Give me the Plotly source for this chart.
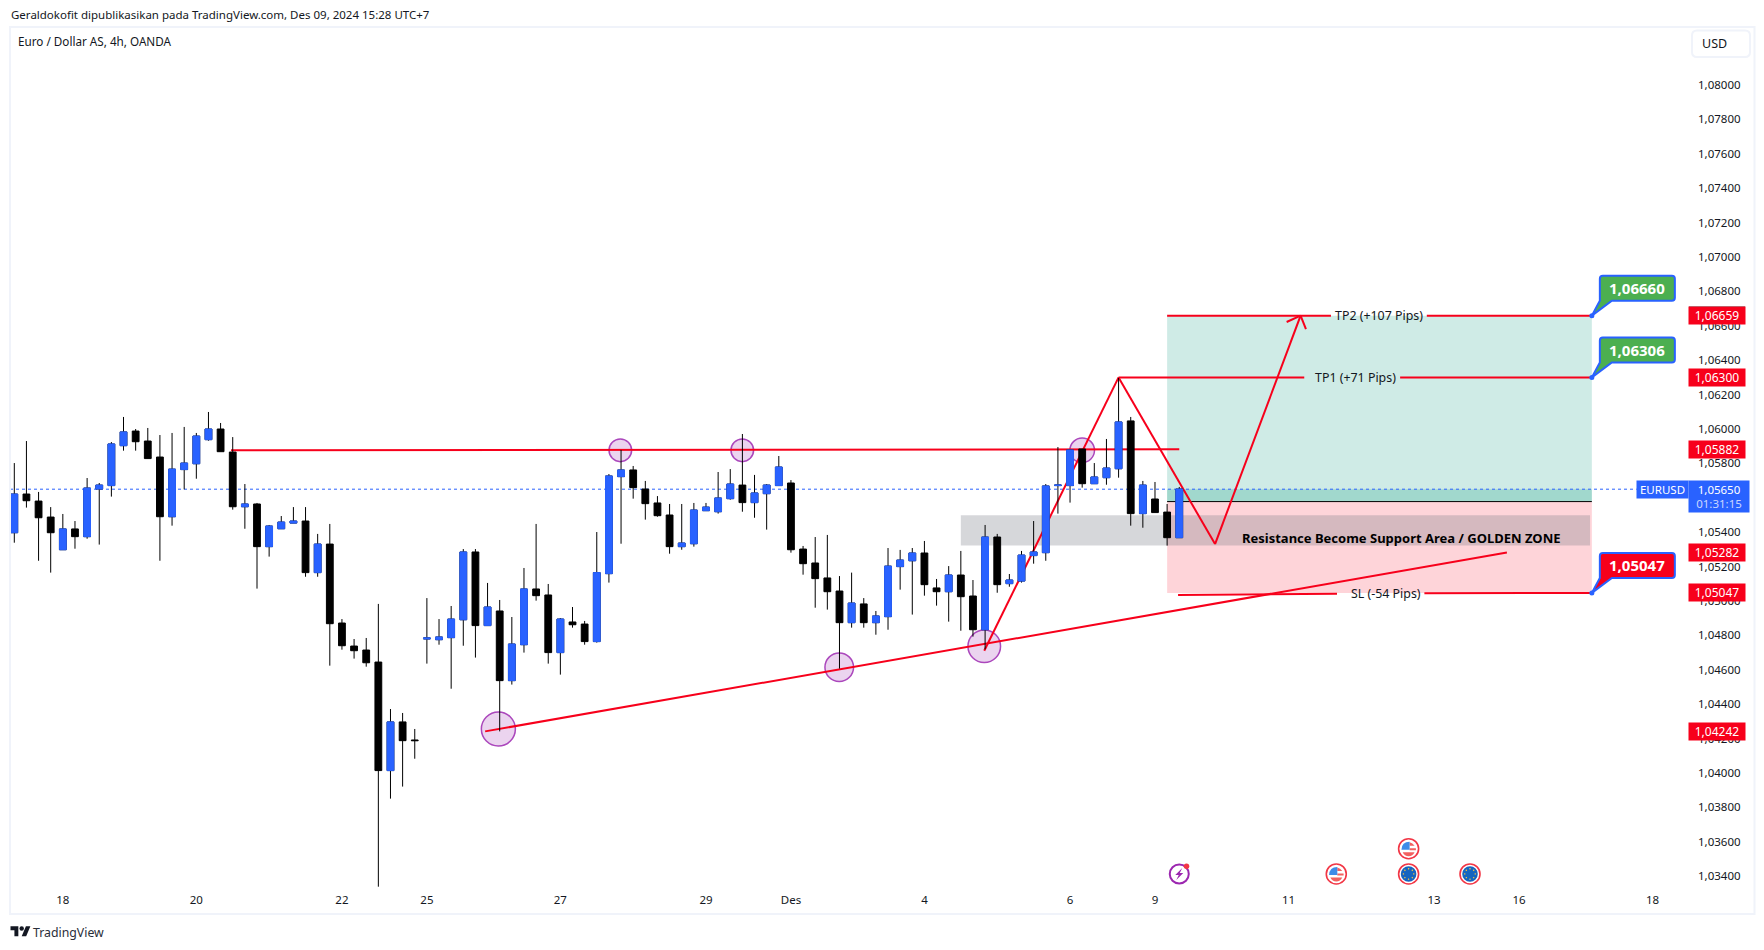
import math
import plotly.graph_objects as go

opens = [1.05397,1.05622,1.05581,1.05488,1.05298,1.05419,1.05374,1.05651,1.05671,1.05903,
1.05988,1.05930,1.05837,1.05490,1.05764,1.05798,1.05938,1.06000,1.05866,1.05548,
1.05564,1.05316,1.05420,1.05453,1.05465,1.05165,1.05331,1.04872,1.04738,1.04715,
1.04645,1.04014,1.04297,1.04192,1.04779,1.04775,1.04787,1.04891,1.05285,1.04857,
1.04942,1.04537,1.04746,1.05070,1.05035,1.04700,1.04878,1.04866,1.04764,1.05159,
1.05723,1.05762,1.05651,1.05570,1.05500,1.05316,1.05333,1.05525,1.05519,1.05595,
1.05674,1.05572,1.05624,1.05671,1.05686,1.05302,1.05221,1.05134,1.05058,1.04874,
1.04983,1.04874,1.04909,1.05200,1.05234,1.05279,1.05076,1.05054,1.05151,1.05029,
1.04833,1.05372,1.05101,1.05116,1.05264,1.05281,1.05671,1.05671,1.05884,1.05682,
1.05717,1.05769,1.06047,1.05508,1.05593,1.05517,1.05368]
closes = [1.05622,1.05583,1.05484,1.05397,1.05419,1.05374,1.05657,1.05674,1.05913,1.05983,
1.05926,1.05828,1.05490,1.05767,1.05802,1.05959,1.06000,1.05868,1.05548,1.05564,
1.05316,1.05436,1.05459,1.05465,1.05165,1.05331,1.04868,1.04740,1.04711,1.04641,
1.04014,1.04297,1.04188,1.04188,1.04785,1.04791,1.04895,1.05285,1.04857,1.04965,
1.04537,1.04750,1.05070,1.05031,1.04700,1.04895,1.04862,1.04764,1.05165,1.05727,
1.05762,1.05659,1.05566,1.05496,1.05316,1.05337,1.05529,1.05546,1.05599,1.05680,
1.05572,1.05628,1.05674,1.05779,1.05298,1.05217,1.05130,1.05054,1.04874,1.04988,
1.04874,1.04913,1.05203,1.05238,1.05279,1.05095,1.05054,1.05151,1.05025,1.04833,
1.05372,1.05095,1.05122,1.05267,1.05285,1.05669,1.05674,1.05878,1.05682,1.05721,
1.05773,1.06041,1.05508,1.05674,1.05514,1.05368,1.05651]
highs = [1.05802,1.05930,1.05634,1.05546,1.05506,1.05465,1.05715,1.05686,1.05924,1.06070,
1.06000,1.06006,1.05965,1.05977,1.06012,1.05977,1.06099,1.06035,1.05953,1.05680,
1.05570,1.05442,1.05494,1.05546,1.05546,1.05390,1.05448,1.04895,1.04779,1.04785,
1.04983,1.04372,1.04349,1.04256,1.05017,1.04895,1.04971,1.05302,1.05302,1.05105,
1.05006,1.04907,1.05192,1.05448,1.05099,1.04901,1.04965,1.04884,1.05401,1.05738,
1.05878,1.05785,1.05698,1.05610,1.05564,1.05564,1.05570,1.05570,1.05750,1.05767,
1.05971,1.05733,1.05680,1.05843,1.05703,1.05320,1.05372,1.05384,1.05145,1.05165,
1.05017,1.04942,1.05308,1.05297,1.05308,1.05349,1.05128,1.05203,1.05291,1.05122,
1.05442,1.05390,1.05157,1.05291,1.05465,1.05680,1.05895,1.05878,1.05884,1.05802,
1.05942,1.06297,1.06070,1.05698,1.05692,1.05564,1.05663]
lows = [1.05339,1.05543,1.05234,1.05165,1.05298,1.05304,1.05362,1.05328,1.05607,1.05874,
1.05874,1.05828,1.05234,1.05438,1.05649,1.05711,1.05932,1.05868,1.05531,1.05420,
1.05072,1.05258,1.05420,1.05453,1.05141,1.05141,1.04624,1.04717,1.04665,1.04618,
1.03339,1.03851,1.03921,1.04083,1.04636,1.04746,1.04490,1.04740,1.04671,1.04857,
1.04242,1.04514,1.04700,1.05002,1.04636,1.04572,1.04845,1.04746,1.04758,1.05107,
1.05333,1.05595,1.05473,1.05490,1.05275,1.05298,1.05316,1.05525,1.05508,1.05589,
1.05519,1.05484,1.05415,1.05671,1.05281,1.05153,1.04961,1.04950,1.04607,1.04845,
1.04845,1.04804,1.04833,1.05066,1.04921,1.05031,1.04973,1.04880,1.04827,1.04793,
1.04719,1.05048,1.05083,1.05107,1.05217,1.05234,1.05508,1.05572,1.05659,1.05682,
1.05676,1.05717,1.05438,1.05426,1.05514,1.05322,1.05368]
bars = list(range(len(opens)))

price_ticks = [1.034 + 0.002 * k for k in range(24)]
time_tick_bars = [4, 15, 27, 34, 45, 57, 64, 75, 87, 94, 105, 117, 124, 135]
time_tick_text = ["18", "20", "22", "25", "27", "29", "Des", "4", "6", "9", "11", "13", "16", "18"]

last_price = 1.0565
entry_price = 1.05578
tp1_price, tp2_price, sl_price = 1.06300, 1.06659, 1.05047
zone_top, zone_bottom = 1.05498, 1.05322
box_start, box_end = 95.0, 130.0
zone_start, zone_end = 78.0, 129.85

trend_x, trend_y = [38.8, 123.0], [1.04242, 1.05282]
resist_x, resist_y = [17.86, 96.0], [1.05876, 1.05882]
zigzag_x = [79.93, 91.0, 98.95, 106.0]
zigzag_y = [1.04711, 1.06300, 1.05331, 1.06659]
barb_x, barb_y = [104.85, 106.44], [1.06622, 1.06581]
circle_x = [39.89, 49.94, 59.99, 67.98, 79.93, 88.0]
circle_y = [1.04256, 1.05876, 1.05876, 1.04615, 1.04737, 1.05876]
circle_r = [17, 11.3, 11.3, 14.3, 16.3, 12.3]

axis_tags = ["1,06659", "1,06300", "1,05882", "1,05282", "1,05047", "1,04242"]
axis_tag_y = [1.06659, 1.06300, 1.05878, 1.05282, 1.05047, 1.04242]
callout_text = ["1,06660", "1,06306", "1,05047"]
callout_y = [1.06659, 1.06300, 1.05047]
callout_fill = ["#4CAF50", "#4CAF50", "#F7001B"]

BLUE, RED, INK = "#2962FF", "#F7001B", "#131722"
FONT = "Noto Sans"
L, R, T, B = 10, 1689, 27, 887
XMIN, XMAX = (L - 14.3) / 12.135, (R - 14.3) / 12.135
YMAX, YMIN = 1.06 + (429 - T) / 17200, 1.06 + (429 - B) / 17200


def px(x):
    return (x - L) / (R - L)


def py(y):
    return (B - y) / (B - T)


shapes = []
annos = []


def rect(x0, x1, y0, y1, fill):
    shapes.append(dict(type="rect", xref="x", yref="y", x0=x0, x1=x1, y0=y0, y1=y1,
                       fillcolor=fill, line=dict(width=0), layer="below"))


def seg(xs, ys, color=RED, width=2, dash="solid"):
    shapes.append(dict(type="line", xref="x", yref="y", x0=xs[0], x1=xs[1], y0=ys[0], y1=ys[1],
                       line=dict(color=color, width=width, dash=dash), layer="below"))


def pix_circle(x, y, r, fill, line=None, lw=0, layer="below", xref="x", yref="y"):
    shapes.append(dict(type="circle", xref=xref, yref=yref, xsizemode="pixel", ysizemode="pixel",
                       xanchor=x, yanchor=y, x0=-r, x1=r, y0=-r, y1=r, fillcolor=fill,
                       line=dict(color=line or fill, width=lw), layer=layer))


def pix_path(x, y, path, fill, line=None, lw=0, layer="above", xref="x", yref="y"):
    shapes.append(dict(type="path", xref=xref, yref=yref, xsizemode="pixel", ysizemode="pixel",
                       xanchor=x, yanchor=y, path=path, fillcolor=fill,
                       line=dict(color=line or fill, width=lw), layer=layer))


def text(x, y, s, size, color=INK, xanchor="left", xref="paper", yref="paper", **kw):
    annos.append(dict(x=x, y=y, xref=xref, yref=yref, text=s, showarrow=False, xanchor=xanchor,
                      yanchor="middle", font=dict(family=FONT, size=size, color=color), **kw))


# position tool and zone
rect(box_start, box_end, entry_price, tp2_price, "rgba(0,150,120,0.19)")
rect(box_start, box_end, last_price, entry_price, "rgba(0,150,120,0.22)")
rect(box_start, box_end, sl_price, entry_price, "rgba(247,0,27,0.17)")
rect(zone_start, zone_end, zone_bottom, zone_top, "rgba(120,123,134,0.30)")
seg([box_start, box_end], [entry_price, entry_price], "#000000", 1)
seg([XMIN, 133.7], [last_price, last_price], BLUE, 1, "dot")

# circles under the lines
for cx, cy, cr in zip(circle_x, circle_y, circle_r):
    pix_circle(cx, cy, cr, "rgba(156,39,176,0.2)", "#AB47BC", 1.5)

# drawn lines
seg(trend_x, trend_y)
seg(resist_x, resist_y)
for k in range(3):
    seg(zigzag_x[k:k + 2], zigzag_y[k:k + 2])
seg([barb_x[0], zigzag_x[3]], [barb_y[0], zigzag_y[3]])
seg([barb_x[1], zigzag_x[3]], [barb_y[1], zigzag_y[3]])
seg([91.0, 106.3], [tp1_price, tp1_price])
seg([114.2, 130], [tp1_price, tp1_price])
seg([95, 108.5], [tp2_price, tp2_price])
seg([116.4, 130], [tp2_price, tp2_price])
seg([95.9, 109.0], [1.05035, 1.05042])
seg([116.2, 130], [1.05045, sl_price])

text(112.5, tp2_price, "TP2 (+107 Pips)", 12.4, xanchor="center", xref="x", yref="y")
text(110.5, tp1_price, "TP1 (+71 Pips)", 12.4, xanchor="center", xref="x", yref="y")
text(113.0, 1.05044, "SL (-54 Pips)", 12.4, xanchor="center", xref="x", yref="y")
text(114.3, 1.05366, "<b>Resistance Become Support Area / GOLDEN ZONE</b>", 13, "#000000",
     xanchor="center", xref="x", yref="y")

# callouts
for s, cy, fill in zip(callout_text, callout_y, callout_fill):
    pix_path(box_end, cy,
             "M 0 0 L 20 15 L 80 15 Q 83 15 83 18 L 83 37 Q 83 40 80 40 L 11 40 Q 8 40 8 37 L 8 15 Z",
             fill, BLUE, 2)
    pix_circle(box_end, cy, 2.5, BLUE, layer="above")
    annos.append(dict(x=box_end, y=cy, xref="x", yref="y", xshift=45.5, yshift=27.5, text="<b>" + s + "</b>",
                      showarrow=False, font=dict(family=FONT, size=15, color="#FFFFFF")))

# axis tags
tag_x = px(1717)
shapes.append(dict(type="rect", xref="paper", yref="paper", x0=px(1689), x1=px(1745), y0=py(308), y1=py(306.5),
                   fillcolor="#1B7F6E", line=dict(width=0), layer="above"))
for s, ty in zip(axis_tags, axis_tag_y):
    annos.append(dict(x=tag_x, y=ty, xref="paper", yref="y", text=s, showarrow=False, width=56, height=17,
                      xanchor="center", yanchor="middle", bgcolor=RED, borderpad=0,
                      font=dict(family=FONT, size=12, color="#FFFFFF")))
annos.append(dict(x=px(1662.5), y=py(489.5), xref="paper", yref="paper", text="EURUSD", showarrow=False,
                  width=51, height=17, xanchor="center", yanchor="middle", bgcolor=BLUE, borderpad=0,
                  font=dict(family=FONT, size=11.5, color="#FFFFFF")))
annos.append(dict(x=px(1719), y=py(496.3), xref="paper", yref="paper",
                  text="1,05650<br><span style='color:#C9D6FF'>01:31:15</span>", showarrow=False,
                  width=60, height=31, xanchor="center", yanchor="middle", bgcolor=BLUE, borderpad=0,
                  font=dict(family=FONT, size=11.5, color="#FFFFFF")))

# events
EV_Y_LOW, EV_Y_HIGH = 1.03413, 1.0356
for ex in [96]:
    pix_circle(ex, EV_Y_LOW, 9.5, "#FFFFFF", "#9C27B0", 2, layer="above")
    pix_path(ex, EV_Y_LOW, "M 3 6 L -4 -1 L -0.5 -1 L -3 -6 L 4 1 L 0.5 1 Z", "#9C27B0")
    shapes.append(dict(type="circle", xref="x", yref="y", xsizemode="pixel", ysizemode="pixel", xanchor=ex,
                       yanchor=EV_Y_LOW, x0=4.5, x1=10, y0=5, y1=10.5, fillcolor="#F23645",
                       line=dict(width=0), layer="above"))
for ex, ey in [(108.94, EV_Y_LOW), (114.9, EV_Y_HIGH)]:
    pix_circle(ex, ey, 10, "#FFFFFF", "#F23645", 1.6, layer="above")
    pix_path(ex, ey, "M -6 -3.5 L 6 -3.5 Q 4 -7.5 0 -7.5 Q -4 -7.5 -6 -3.5 Z", "#F2605F")
    pix_path(ex, ey, "M 1 6.5 Q 4 6 6 3 L 1 3 Z M 1 0.5 L 7.3 0.5 L 7.3 -1.5 L 1 -1.5 Z", "#F2605F")
    pix_path(ex, ey, "M -7.2 -1 L 1 -1 L 1 7 Q -3 7 -5 5 Q -7 3 -7.2 -1 Z", "#3D8BE8")
for ex, ey in [(114.9, EV_Y_LOW), (119.96, EV_Y_LOW)]:
    pix_circle(ex, ey, 10, "#FFFFFF", "#F23645", 1.6, layer="above")
    pix_circle(ex, ey, 7.8, "#1565C0", layer="above")
    stars = []
    for k in range(8):
        a = k * math.pi / 4
        sx, sy = 5.2 * math.cos(a), 5.2 * math.sin(a)
        stars.append(f"M {sx-0.9:.1f} {sy:.1f} L {sx:.1f} {sy+0.9:.1f} L {sx+0.9:.1f} {sy:.1f} L {sx:.1f} {sy-0.9:.1f} Z")
    pix_path(ex, ey, " ".join(stars), "#F9C440")

# page chrome
shapes.append(dict(type="rect", xref="paper", yref="paper", x0=px(10), x1=px(1754.5), y0=py(914), y1=py(27),
                   line=dict(color="#F0F3FA", width=2), layer="above"))
pix_path(px(1692), py(57), "M 5 0 L 53 0 Q 58 0 58 5 L 58 21.5 Q 58 26.5 53 26.5 L 5 26.5 Q 0 26.5 0 21.5 L 0 5 Q 0 0 5 0 Z",
         "#FFFFFF", "#F0F3FA", 2, xref="paper", yref="paper")
text(px(1700), py(44), "USD", 12.5)
text(px(8.5), py(14), "Geraldokofit dipublikasikan pada TradingView.com, Des 09, 2024 15:28 UTC+7", 11.5)
text(px(16), py(41.5), "Euro / Dollar AS, 4h, OANDA", 11.7)
text(px(31), py(932), "TradingView", 12.3, color="#2A2E39")
LOGO_S = 0.56
logo1 = [(14, 22), (7, 22), (7, 11), (0, 11), (0, 4), (14, 4)]
logo2 = [(28, 22), (20, 22), (27.5, 4), (35.5, 4)]
logo_path = ""
for poly in (logo1, logo2):
    logo_path += "M " + " L ".join(f"{a*LOGO_S:.2f} {(22-b)*LOGO_S:.2f}" for a, b in poly) + " Z "
pix_path(px(10.5), py(936.3), logo_path, "#131722", xref="paper", yref="paper")
shapes.append(dict(type="circle", xref="paper", yref="paper", xsizemode="pixel", ysizemode="pixel",
                   xanchor=px(10.5), yanchor=py(936.3), x0=16*LOGO_S, x1=24*LOGO_S, y0=10*LOGO_S, y1=18*LOGO_S,
                   fillcolor="#131722", line=dict(width=0), layer="above"))

fig = go.Figure()
# every candle: real OHLC, black wick and outline
fig.add_trace(go.Candlestick(
    x=bars, open=opens, high=highs, low=lows, close=closes, whiskerwidth=0,
    increasing=dict(line=dict(color="#000000", width=1), fillcolor=BLUE),
    decreasing=dict(line=dict(color="#000000", width=1), fillcolor="#000000"),
    showlegend=False, name="EURUSD"))
# up candle bodies repainted blue, so that only their wicks stay black
up = [i for i in bars if closes[i] >= opens[i]]
fig.add_trace(go.Candlestick(
    x=up, open=[opens[i] for i in up], close=[closes[i] for i in up],
    high=[closes[i] for i in up], low=[opens[i] for i in up], whiskerwidth=0,
    increasing=dict(line=dict(color=BLUE, width=1), fillcolor=BLUE),
    decreasing=dict(line=dict(color=BLUE, width=1), fillcolor=BLUE),
    showlegend=False, hoverinfo="skip"))

fig.update_layout(
    width=1764, height=950, paper_bgcolor="#FFFFFF", plot_bgcolor="#FFFFFF",
    margin=dict(l=L, r=1764 - R, t=T, b=950 - B, pad=0, autoexpand=False),
    showlegend=False, shapes=shapes, annotations=annos, boxgap=0.2,
    font=dict(family=FONT, color=INK),
    xaxis=dict(range=[XMIN, XMAX], type="linear", rangeslider=dict(visible=False), showgrid=False,
               zeroline=False, showline=False, ticks="", tickmode="array", tickvals=time_tick_bars,
               ticktext=time_tick_text, tickfont=dict(family=FONT, size=11.5, color=INK),
               ticklabelstandoff=4),
    yaxis=dict(range=[YMIN, YMAX], side="right", showgrid=False, zeroline=False, showline=False, ticks="",
               tickmode="array", tickvals=price_ticks,
               ticktext=[f"{v:.5f}".replace(".", ",") for v in price_ticks],
               tickfont=dict(family=FONT, size=11.5, color=INK), ticklabelstandoff=8),
)
fig.write_html("out.html", config=dict(displayModeBar=False),
               post_script="document.body.style.margin='0';document.documentElement.style.overflow='hidden';")
